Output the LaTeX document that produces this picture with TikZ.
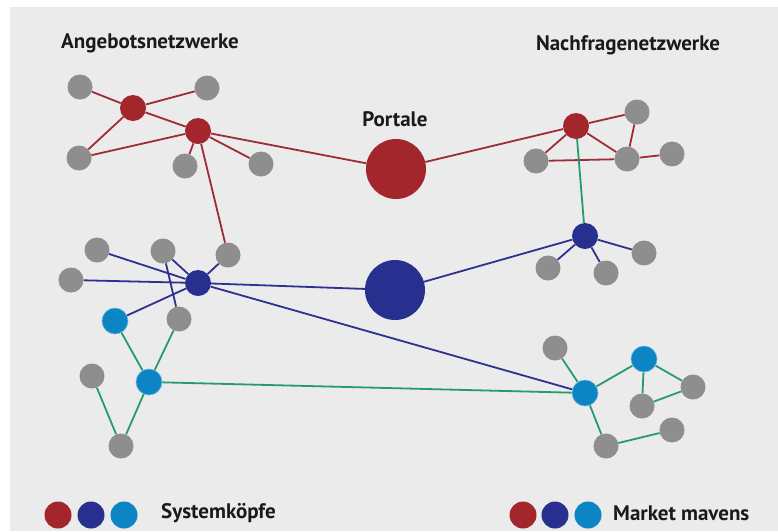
\documentclass[tikz,border=0pt]{standalone}
\usepackage{fontspec}
\setmainfont{PT Sans}
\definecolor{bgc}{HTML}{EBEBEB}
\definecolor{grayn}{HTML}{8E8E8E}
\definecolor{redn}{HTML}{A3262C}
\definecolor{dbluen}{HTML}{28308F}
\definecolor{lbluen}{HTML}{0B85C4}
\definecolor{rede}{HTML}{9E2B36}
\definecolor{bluee}{HTML}{2E3190}
\definecolor{greene}{HTML}{279B70}
\definecolor{txt}{HTML}{1A1A1A}
\pgfdeclarelayer{bg}
\pgfdeclarelayer{edges}
\pgfsetlayers{bg,edges,main}
\tikzset{
  gn/.style={circle,fill=grayn,minimum size=25pt,inner sep=0pt},
  rn/.style={circle,fill=redn,minimum size=26pt,inner sep=0pt},
  dbn/.style={circle,fill=dbluen,minimum size=26pt,inner sep=0pt},
  lbn/.style={circle,fill=lbluen,draw=lbluen!60!white,line width=0.6pt,minimum size=26pt,inner sep=0pt},
  bigred/.style={circle,fill=redn,minimum size=60pt,inner sep=0pt},
  bigblue/.style={circle,fill=dbluen,minimum size=60pt,inner sep=0pt},
  legc/.style={circle,minimum size=27pt,inner sep=0pt},
  re/.style={draw=rede,line width=1.8pt},
  be/.style={draw=bluee,line width=1.8pt},
  ge/.style={draw=greene,line width=1.8pt},
  lbl/.style={font=\bfseries\fontsize{21}{24}\selectfont,text=txt,inner sep=0pt}
}
\begin{document}
\begin{tikzpicture}[x=1pt,y=-1pt]
\useasboundingbox (0,0) rectangle (778,531);
\begin{pgfonlayer}{bg}
\fill[white] (0,0) rectangle (778,531);
\fill[bgc] (10,7) rectangle (778,531);
\end{pgfonlayer}
% labels
\node[lbl] (t1) at (150,43) {Angebotsnetzwerke};
\node[lbl] (t2) at (628,45) {Nachfragenetzwerke};
\node[lbl] (t3) at (395,119) {Portale};
% top-left
\node[gn] (A1) at (80,87) {};
\node[gn] (A2) at (207,88) {};
\node[rn] (R1) at (133,108) {};
\node[rn] (R2) at (198,131) {};
\node[gn] (A3) at (79,158) {};
\node[gn] (A4) at (185,166) {};
\node[gn] (A5) at (261,164) {};
\node[bigred] (P1) at (396,169) {};
% top-right
\node[rn] (R3) at (576,126) {};
\node[gn] (B1) at (637,112) {};
\node[gn] (B2) at (536,161) {};
\node[gn] (B3) at (627,159) {};
\node[gn] (B4) at (672,154) {};
\node[dbn] (D2) at (585,236) {};
\node[gn] (C1) at (548,268) {};
\node[gn] (C2) at (606,273) {};
\node[gn] (C3) at (644,253) {};
\node[bigblue] (P2) at (395,290) {};
% left middle
\node[gn] (E1) at (97,250) {};
\node[gn] (E2) at (163,251) {};
\node[gn] (E3) at (228,255) {};
\node[gn] (E4) at (71,280) {};
\node[dbn] (D1) at (198,283) {};
\node[lbn] (L1) at (115,321) {};
\node[gn] (E5) at (179,319) {};
\node[lbn] (L2) at (149,382) {};
\node[gn] (E6) at (92,376) {};
\node[gn] (E7) at (121,446) {};
% bottom right
\node[gn] (F1) at (555,348) {};
\node[lbn] (L3) at (585,393) {};
\node[lbn] (L4) at (644,359) {};
\node[gn] (F2) at (693,387) {};
\node[gn] (F3) at (642,406) {};
\node[gn] (F4) at (672,430) {};
\node[gn] (F5) at (606,446) {};
% edges
\begin{pgfonlayer}{edges}
\draw[re] (A1)--(R1) (R1)--(A2) (R1)--(A3) (R1)--(R2) (R2)--(A3) (R2)--(A4) (R2)--(A5)
  (R2)--(P1) (R2)--(E3) (P1)--(R3) (R3)--(B1) (R3)--(B2) (R3)--(B3) (B2)--(B3) (B1)--(B3) (B3)--(B4);
\draw[ge] (R3)--(D2) (L1)--(L2) (E5)--(L2) (L2)--(E7) (E6)--(E7) (L2)--(L3)
  (F1)--(L3) (L3)--(L4) (L4)--(F2) (L4)--(F3) (F3)--(F2) (L3)--(F5) (F5)--(F4);
\draw[be] (E1)--(D1) (E2)--(D1) (E3)--(D1) (E4)--(D1) (E2)--(E5) (D1)--(L1) (D1)--(P2)
  (D1)--(L3) (D2)--(P2) (D2)--(C1) (D2)--(C2) (D2)--(C3);
\end{pgfonlayer}
% legend
\node[legc,fill=redn] (k1) at (58,515) {};
\node[legc,fill=dbluen] (k2) at (91,515) {};
\node[legc,fill=lbluen] (k3) at (124,515) {};
\node[lbl,anchor=west] (k4) at (161,513) {Systemköpfe};
\node[legc,fill=redn] (m1) at (523,515) {};
\node[legc,fill=dbluen] (m2) at (555,515) {};
\node[legc,fill=lbluen] (m3) at (588,515) {};
\node[lbl,anchor=west] (m4) at (613,513) {Market mavens};
\end{tikzpicture}
\end{document}
